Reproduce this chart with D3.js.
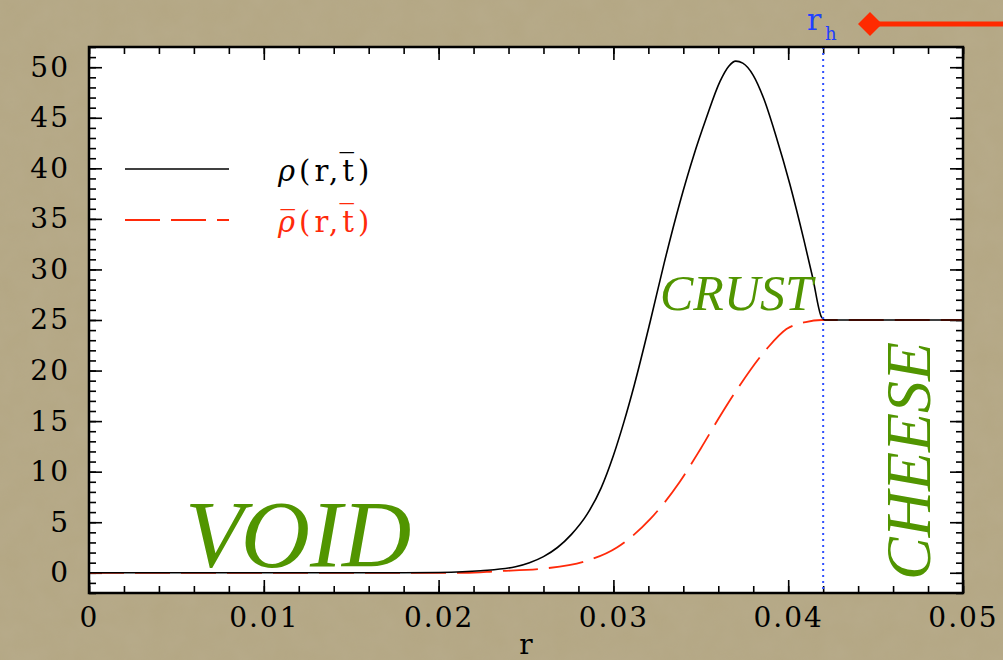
<!DOCTYPE html>
<html>
<head>
<meta charset="utf-8">
<script src="https://cdn.jsdelivr.net/npm/d3@7"></script>
<style>
  html, body { margin: 0; padding: 0; background: #b4a784; }
  svg { display: block; }
  .tick text { font-family: "DejaVu Serif", serif; font-size: 28px; letter-spacing: 2px; fill: #000; }
  .domain { display: none; }
</style>
</head>
<body>
<script>
// black curve: rho(r, tbar)
var rhoR = [0, 0.018, 0.020, 0.0224, 0.0244, 0.0252, 0.0260, 0.0268, 0.0276, 0.0285, 0.0293, 0.0300, 0.0306, 0.0312,
            0.0321, 0.0329, 0.0338, 0.0346, 0.0353, 0.0361, 0.0366, 0.0370, 0.0374, 0.0380, 0.0386,
            0.0393, 0.0401, 0.0409, 0.0414, 0.0419, 0.0421, 0.045, 0.05];
var rhoVal = [0, 0, 0.03, 0.2, 0.6, 1.0, 1.6, 2.5, 3.8, 5.8, 8.4, 11.6, 14.9, 18.6,
              24.8, 30.6, 36.6, 41.3, 44.9, 48.6, 50.1, 50.6, 50.4, 49.2, 46.9,
              43.2, 38.4, 32.9, 29.2, 25.3, 25, 25, 25];
// red dashed: rhobar(r, tbar)
var barR = [0, 0.0215, 0.0233, 0.0262, 0.0283, 0.0302, 0.0321, 0.0338, 0.0350, 0.0360, 0.0371,
            0.0388, 0.0399, 0.0410, 0.0419, 0.0421, 0.045, 0.05];
var barVal = [0, 0, 0.15, 0.45, 1.1, 2.5, 5.3, 9.0, 12.3, 15.2, 18.2,
              22.2, 24.1, 24.8, 25.0, 25, 25, 25];
var rH = 0.042;
var xTicks = [0, 0.01, 0.02, 0.03, 0.04, 0.05];
var yTicks = [0, 5, 10, 15, 20, 25, 30, 35, 40, 45, 50];

var W = 1003, H = 660;
var pLeft = 89, pRight = 963, pTop = 47, pBottom = 593;

var svg = d3.select('body').append('svg').attr('width', W).attr('height', H);

// textured tan backdrop
var defs = svg.append('defs');
var f = defs.append('filter').attr('id', 'paper').attr('x', 0).attr('y', 0).attr('width', '100%').attr('height', '100%');
f.append('feTurbulence').attr('type', 'fractalNoise').attr('baseFrequency', 0.04).attr('numOctaves', 3).attr('seed', 4);
f.append('feColorMatrix').attr('values', '0 0 0 0 0.55  0 0 0 0 0.50  0 0 0 0 0.38  0 0 0 0.35 0');
svg.append('rect').attr('width', W).attr('height', H).attr('fill', '#b4a784');
svg.append('rect').attr('width', W).attr('height', H).attr('filter', 'url(#paper)').attr('opacity', 0.5);

var x = d3.scaleLinear().domain([0, 0.05]).range([pLeft, pRight]);
var y = d3.scaleLinear().domain([-2, 52]).range([pBottom, pTop]);

svg.append('rect').attr('x', pLeft).attr('y', pTop).attr('width', pRight - pLeft).attr('height', pBottom - pTop).attr('fill', '#fff');

var minorX = d3.range(0, 0.0501, 0.002);
var minorY = d3.range(-2, 52.1, 1);

function addAxis(fn, scale, vals, size, labels, tx, ty, pad) {
    var ax = fn(scale).tickValues(vals).tickSize(-size).tickPadding(pad || 0);
    if (!labels) ax.tickFormat('');
    else ax.tickFormat(d3.format(''));
    var g = svg.append('g').attr('transform', 'translate(' + tx + ',' + ty + ')').call(ax);
    g.selectAll('.tick line').attr('stroke', '#000').attr('stroke-width', 1.6);
    return g;
}
addAxis(d3.axisBottom, x, minorX, 7, false, 0, pBottom);
addAxis(d3.axisTop, x, minorX, 7, false, 0, pTop);
addAxis(d3.axisLeft, y, minorY, 7, false, pLeft, 0);
addAxis(d3.axisRight, y, minorY, 7, false, pRight, 0);
var gx = addAxis(d3.axisBottom, x, xTicks, 13, true, 0, pBottom, 14);
gx.selectAll('.tick text').text(function(d) { return d === 0 ? '0' : d3.format('.2f')(d); });
addAxis(d3.axisTop, x, xTicks, 13, false, 0, pTop);
var gy = addAxis(d3.axisLeft, y, yTicks, 13, true, pLeft, 0, 19);
addAxis(d3.axisRight, y, yTicks, 13, false, pRight, 0);

// curves
var line = d3.line().x(function(d) { return x(d[0]); }).y(function(d) { return y(d[1]); })
    .curve(d3.curveMonotoneX);
var plot = svg.append('g');
plot.append('path').datum(d3.zip(barR, barVal)).attr('d', line)
    .attr('fill', 'none').attr('stroke', '#ff2a0a').attr('stroke-width', 1.8).attr('stroke-dasharray', '35,11');
plot.append('path').datum(d3.zip(rhoR, rhoVal)).attr('d', line)
    .attr('fill', 'none').attr('stroke', '#000').attr('stroke-width', 1.6);

// r_h marker
svg.append('line').attr('x1', x(rH)).attr('x2', x(rH)).attr('y1', pTop).attr('y2', pBottom)
    .attr('stroke', '#3050ff').attr('stroke-width', 2).attr('stroke-dasharray', '2,4');

// frame
svg.append('rect').attr('x', pLeft).attr('y', pTop).attr('width', pRight - pLeft).attr('height', pBottom - pTop)
    .attr('fill', 'none').attr('stroke', '#000').attr('stroke-width', 2.5);

svg.append('text').attr('x', (pLeft + pRight) / 2).attr('y', 654).attr('text-anchor', 'middle')
    .attr('font-family', 'DejaVu Serif').attr('font-size', 28).attr('fill', '#000').text('r');

// legend
svg.append('line').attr('x1', 125).attr('x2', 229).attr('y1', 169).attr('y2', 169).attr('stroke', '#000').attr('stroke-width', 1.6);
svg.append('line').attr('x1', 125).attr('x2', 229).attr('y1', 220).attr('y2', 220)
    .attr('stroke', '#ff2a0a').attr('stroke-width', 1.8).attr('stroke-dasharray', '35,11');

function legendText(yy, color, bar) {
    var t = svg.append('text').attr('x', 278).attr('y', yy).attr('font-family', 'DejaVu Serif')
        .attr('font-size', 29).attr('fill', color).attr('letter-spacing', 4);
    t.append('tspan').attr('font-style', 'italic').text(bar ? 'ρ\u0305' : 'ρ');
    t.append('tspan').text('(r,t\u0305)');
}
legendText(181, '#000', false);
legendText(232, '#ff2a0a', true);

// region labels
var green = '#519500';
svg.append('text').attr('x', 185).attr('y', 567).attr('font-family', 'Liberation Serif').attr('font-style', 'italic')
    .attr('font-size', 96).attr('fill', green).text('VOID');
svg.append('text').attr('x', 660).attr('y', 310).attr('font-family', 'Liberation Serif').attr('font-style', 'italic')
    .attr('font-size', 50).attr('fill', green).text('CRUST');
svg.append('text').attr('transform', 'translate(930,580) rotate(-90)').attr('font-family', 'Liberation Serif')
    .attr('font-style', 'italic').attr('font-size', 64).attr('fill', green).text('CHEESE');

// r_h label + arrow above the frame
var lab = svg.append('text').attr('x', 807).attr('y', 30).attr('font-family', 'DejaVu Serif')
    .attr('font-size', 30).attr('fill', '#2040ff');
lab.append('tspan').text('r');
lab.append('tspan').attr('x', 825).attr('y', 40).attr('font-size', 18).text('h');
svg.append('line').attr('x1', 872).attr('x2', W).attr('y1', 24).attr('y2', 24).attr('stroke', '#ff2a00').attr('stroke-width', 5);
svg.append('path').attr('d', 'M858,24 L870,12 L882,24 L870,36 Z').attr('fill', '#ff2a00');
</script>
</body>
</html>
